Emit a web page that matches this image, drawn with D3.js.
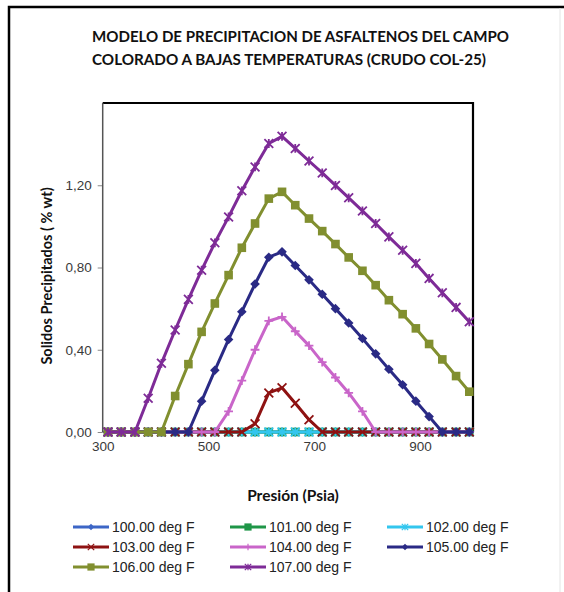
<!DOCTYPE html>
<html>
<head>
<meta charset="utf-8">
<script src="https://cdn.jsdelivr.net/npm/d3@7"></script>
<style>
  body { margin: 0; background: #fff; }
  svg { display: block; }
</style>
</head>
<body>
<svg width="564" height="592"></svg>
<script>
// Pressure points (psia) shared by every series
var pressure = [310, 335, 361, 386, 411, 437, 462, 487, 512, 538, 563, 588, 614, 639,
                664, 690, 715, 740, 765, 791, 816, 841, 867, 892, 917, 942, 968, 993];

// Precipitated solids (% wt) per temperature
var t100 = [0,0,0,0,0,0,0,0,0,0,0,0,0,0,0,0,0,0,0,0,0,0,0,0,0,0,0,0];
var t101 = [0,0,0,0,0,0,0,0,0,0,0,0,0,0,0,0,0,0,0,0,0,0,0,0,0,0,0,0];
var t102 = [0,0,0,0,0,0,0,0,0,0,0,0,0,0,0,0,0,0,0,0,0,0,0,0,0,0,0,0];
var t103 = [0,0,0,0,0,0,0,0,0,0,0,0.04,0.19,0.215,0.14,0.06,0,0,0,0,0,0,0,0,0,0,0,0];
var t104 = [0,0,0,0,0,0,0,0,0,0.10,0.25,0.40,0.54,0.56,0.49,0.42,0.34,0.265,0.19,0.10,0,0,0,0,0,0,0,0];
var t105 = [0,0,0,0,0,0,0,0.15,0.30,0.45,0.585,0.72,0.85,0.876,0.81,0.74,0.67,0.60,0.53,0.455,0.38,0.305,0.23,0.15,0.075,0,0,0];
var t106 = [0,0,0,0,0,0.175,0.33,0.487,0.625,0.763,0.896,1.014,1.135,1.168,1.103,1.038,0.977,0.914,0.849,0.784,0.714,0.641,0.573,0.504,0.428,0.353,0.272,0.196];
var t107 = [0,0,0,0.164,0.334,0.496,0.645,0.787,0.92,1.046,1.173,1.289,1.403,1.438,1.379,1.318,1.26,1.199,1.139,1.075,1.014,0.949,0.884,0.82,0.747,0.677,0.606,0.536];

var seriesNames = ["100.00 deg F", "101.00 deg F", "102.00 deg F", "103.00 deg F",
                   "104.00 deg F", "105.00 deg F", "106.00 deg F", "107.00 deg F"];
var seriesValues = [t100, t101, t102, t103, t104, t105, t106, t107];
var seriesColors = ["#3d66c6", "#1f9648", "#33c6ee", "#8e1212", "#c965c9", "#2a2a85", "#818f2f", "#7e2b97"];
var seriesMarkers = ["diamond", "square", "star", "x", "plus", "diamond", "square", "star"];

var xTicks = [300, 500, 700, 900];
var yTicks = [0, 0.4, 0.8, 1.2];

var svg = d3.select("svg");

// outer chart frame
svg.append("path")
  .attr("d", "M9,592 L9,7 L564,7")
  .attr("fill", "none")
  .attr("stroke", "#000")
  .attr("stroke-width", 2.5);
svg.append("line")
  .attr("x1", 560).attr("x2", 560).attr("y1", 8).attr("y2", 592)
  .attr("stroke", "#e4e4e4").attr("stroke-width", 1);

// title
var title = svg.append("text")
  .style("font-family", "Lato, 'Open Sans', sans-serif")
  .style("font-weight", "bold")
  .style("font-size", "15.2px")
  .attr("fill", "#111");
title.append("tspan").attr("x", 92).attr("y", 42)
  .attr("textLength", 417).attr("lengthAdjust", "spacingAndGlyphs")
  .text("MODELO DE PRECIPITACION DE ASFALTENOS DEL CAMPO");
title.append("tspan").attr("x", 92).attr("y", 65)
  .attr("textLength", 394).attr("lengthAdjust", "spacingAndGlyphs")
  .text("COLORADO A BAJAS TEMPERATURAS (CRUDO COL-25)");

var plot = { left: 102.7, right: 473, top: 103, bottom: 432 };

var x = d3.scaleLinear().domain([300, 1000]).range([plot.left, plot.right]);
var y = d3.scaleLinear().domain([0, 1.6]).range([plot.bottom, plot.top]);

var fmt = function(d) { return d3.format(".2f")(d).replace(".", ","); };

// y axis
var yAxis = svg.append("g")
  .attr("transform", "translate(" + plot.left + ",0)")
  .call(d3.axisLeft(y).tickValues(yTicks).tickFormat(fmt).tickSize(5).tickPadding(6));
yAxis.select(".domain").remove();
yAxis.selectAll(".tick line").attr("stroke", "#888");
yAxis.selectAll(".tick text")
  .style("font-family", "Arial, 'Liberation Sans', sans-serif")
  .style("font-size", "13.5px")
  .attr("fill", "#3a3a3a");

// x axis
var xAxis = svg.append("g")
  .attr("transform", "translate(0," + plot.bottom + ")")
  .call(d3.axisBottom(x).tickValues(xTicks).tickFormat(d3.format("d")).tickSize(0).tickPadding(9));
xAxis.select(".domain").remove();
xAxis.selectAll(".tick text")
  .style("font-family", "Arial, 'Liberation Sans', sans-serif")
  .style("font-size", "13.5px")
  .attr("fill", "#3a3a3a");

// plot frame
svg.append("path")
  .attr("d", "M" + plot.left + "," + plot.top + " L" + plot.right + "," + plot.top + " L" + plot.right + "," + plot.bottom)
  .attr("fill", "none").attr("stroke", "#000").attr("stroke-width", 2.2);
svg.append("line")
  .attr("x1", plot.left).attr("x2", plot.right).attr("y1", plot.bottom).attr("y2", plot.bottom)
  .attr("stroke", "#333").attr("stroke-width", 1.2);
svg.append("line")
  .attr("x1", plot.left).attr("x2", plot.left).attr("y1", plot.top).attr("y2", plot.bottom)
  .attr("stroke", "#555").attr("stroke-width", 1.5);

// axis titles
svg.append("text")
  .attr("transform", "translate(52,276) rotate(-90)")
  .attr("text-anchor", "middle")
  .style("font-family", "Lato, 'Open Sans', sans-serif")
  .style("font-weight", "bold")
  .style("font-size", "14.5px")
  .attr("fill", "#111")
  .text("Solidos Precipitados ( % wt)");

svg.append("text")
  .attr("x", 293).attr("y", 501)
  .attr("text-anchor", "middle")
  .style("font-family", "Lato, 'Open Sans', sans-serif")
  .style("font-weight", "bold")
  .style("font-size", "15.5px")
  .attr("fill", "#111")
  .text("Presión (Psia)");

// marker drawing
function drawMarker(g, type, color, cx, cy, s, sw) {
  if (type == "diamond") {
    g.append("path")
      .attr("d", "M" + cx + "," + (cy - s) + " L" + (cx + s) + "," + cy + " L" + cx + "," + (cy + s) + " L" + (cx - s) + "," + cy + "Z")
      .attr("fill", color);
  } else if (type == "square") {
    g.append("rect")
      .attr("x", cx - s).attr("y", cy - s).attr("width", 2 * s).attr("height", 2 * s)
      .attr("fill", color);
  } else if (type == "x") {
    g.append("path")
      .attr("d", "M" + (cx - s) + "," + (cy - s) + " L" + (cx + s) + "," + (cy + s) + " M" + (cx - s) + "," + (cy + s) + " L" + (cx + s) + "," + (cy - s))
      .attr("stroke", color).attr("stroke-width", sw);
  } else if (type == "plus") {
    g.append("path")
      .attr("d", "M" + (cx - s) + "," + cy + " L" + (cx + s) + "," + cy + " M" + cx + "," + (cy - s) + " L" + cx + "," + (cy + s))
      .attr("stroke", color).attr("stroke-width", sw);
  } else if (type == "star") {
    g.append("path")
      .attr("d", "M" + (cx - s) + "," + (cy - s) + " L" + (cx + s) + "," + (cy + s) + " M" + (cx - s) + "," + (cy + s) + " L" + (cx + s) + "," + (cy - s) +
                 " M" + cx + "," + (cy - s) + " L" + cx + "," + (cy + s))
      .attr("stroke", color).attr("stroke-width", sw);
  }
}

var line = d3.line()
  .x(function(d) { return x(d.p); })
  .y(function(d) { return y(d.v); });

var container = svg.append("g");

seriesValues.forEach(function(vals, k) {
  var pts = vals.map(function(v, i) { return { p: pressure[i], v: v }; });
  var g = container.append("g").attr("class", "series");
  g.append("path")
    .datum(pts)
    .attr("d", line)
    .attr("fill", "none")
    .attr("stroke", seriesColors[k])
    .attr("stroke-width", 3)
    .attr("stroke-linejoin", "round");
  var size = (seriesMarkers[k] == "square") ? 4.3 : (seriesMarkers[k] == "diamond" ? 4.8 : 4.4);
  pts.forEach(function(d) {
    drawMarker(g, seriesMarkers[k], seriesColors[k], x(d.p), y(d.v), size, 1.8);
  });
});

// legend
var legendCols = [73, 230, 387];
var legendRows = [527, 547, 567];
var legend = svg.append("g");
seriesNames.forEach(function(name, k) {
  var lx = legendCols[k % 3], ly = legendRows[Math.floor(k / 3)];
  legend.append("line")
    .attr("x1", lx).attr("x2", lx + 36).attr("y1", ly).attr("y2", ly)
    .attr("stroke", seriesColors[k]).attr("stroke-width", 3);
  drawMarker(legend, seriesMarkers[k], seriesColors[k], lx + 18, ly, seriesMarkers[k] == "square" ? 3.6 : 3.2, 1.2);
  legend.append("text")
    .attr("x", lx + 39).attr("y", ly + 5)
    .style("font-family", "Arial, 'Liberation Sans', sans-serif")
    .style("font-size", "14px")
    .attr("fill", "#222")
    .text(name);
});
</script>
</body>
</html>
